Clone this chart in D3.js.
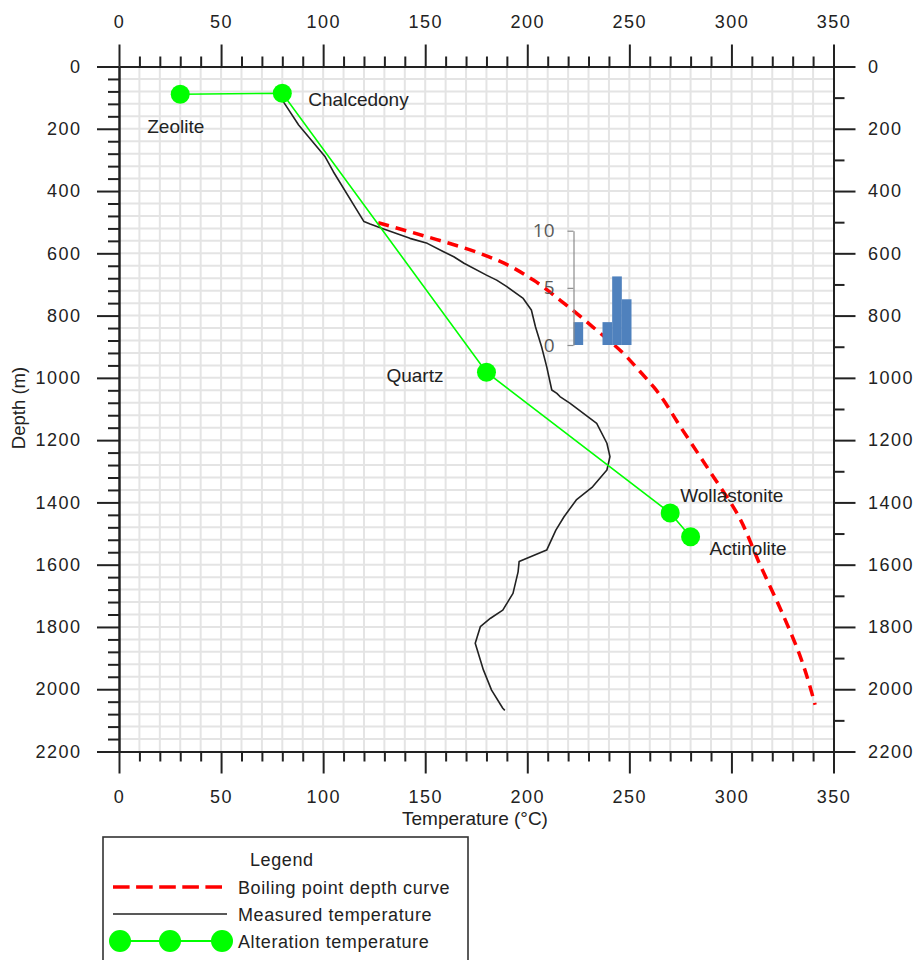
<!DOCTYPE html>
<html>
<head>
<meta charset="utf-8">
<script src="https://cdn.jsdelivr.net/npm/d3@7"></script>
<style>
  html, body { margin: 0; padding: 0; background: #fff; }
  svg { display: block; font-family: "Liberation Sans", Arial, sans-serif; }
</style>
</head>
<body>
<svg id="chart" width="915" height="960"></svg>
<script>
// ---- data ----
const tempTicks = [0, 50, 100, 150, 200, 250, 300, 350];
const depthTicks = [0, 200, 400, 600, 800, 1000, 1200, 1400, 1600, 1800, 2000, 2200];

// measured well temperature profile (°C vs m)
const measuredTemp = [80, 88, 101, 105, 120, 123, 129, 138, 142.5, 151, 159, 164, 169, 180, 185, 190, 198, 202, 204, 207,
  209.5, 212, 214.5, 216, 221, 234, 239, 240.5, 239, 232, 224, 218, 214, 209.5, 196, 195.5, 193, 188, 182, 177,
  174.5, 178.5, 182.5, 188, 189];
const measuredDepth = [108, 188, 290, 338, 498, 506, 520, 541, 552, 568, 595, 611, 632, 670, 686, 707, 745, 782, 836, 900,
  964, 1039, 1050, 1060, 1082, 1146, 1210, 1253, 1296, 1350, 1392, 1446, 1489, 1553, 1590, 1623, 1692, 1746, 1772, 1799,
  1852, 1938, 2003, 2061, 2068];

// boiling point with depth curve
const boilingTemp = [127, 151, 172, 187, 203, 216, 232, 247, 255, 262, 276, 290, 303, 314, 325, 334, 341];
const boilingDepth = [502, 547, 589, 627, 686, 750, 836, 921, 978, 1030, 1167, 1306, 1438, 1600, 1757, 1900, 2050];

// alteration minerals and their formation temperatures
const minerals = ["Zeolite", "Chalcedony", "Quartz", "Wollastonite", "Actinolite"];
const alterationTemp = [30, 80, 180, 270, 280];
const alterationDepth = [89, 86, 982, 1434, 1510];

// small histogram
const histBins = ["b1", "b2", "b3", "b4", "b5", "b6"];
const histCounts = [2, 0, 0, 2, 6, 4];
const histTicks = [0, 5, 10];

// ---- layout ----
const W = 915, H = 960;
const plot = { left: 119, right: 833.5, top: 66.5, bottom: 751.5 };
const labelPlacement = {
  Zeolite:      { dx: -33, dy: 39, anchor: "start" },
  Chalcedony:   { dx: 26,  dy: 12.5, anchor: "start" },
  Quartz:       { dx: -43, dy: 10, anchor: "end" },
  Wollastonite: { dx: 10,  dy: -10.5, anchor: "start" },
  Actinolite:   { dx: 19,  dy: 18.5, anchor: "start" }
};

const svg = d3.select("#chart");
svg.append("rect").attr("width", W).attr("height", H).attr("fill", "#fff");

const x = d3.scaleLinear().domain([0, 350]).range([plot.left, plot.right]);
const y = d3.scaleLinear().domain([0, 2200]).range([plot.top, plot.bottom]);

// ---- grid ----
const grid = svg.append("g").attr("stroke", "#e4e4e4").attr("stroke-width", 2);
grid.selectAll("line.v").data(d3.range(10, 350, 10)).join("line")
  .attr("x1", d => x(d)).attr("x2", d => x(d))
  .attr("y1", plot.top).attr("y2", plot.bottom);
grid.selectAll("line.h").data(d3.range(40, 2200, 40)).join("line")
  .attr("x1", plot.left).attr("x2", plot.right)
  .attr("y1", d => y(d)).attr("y2", d => y(d));

// ---- axes ----
const axisColor = "#222";
function styleAxis(g) {
  g.selectAll("path.domain").attr("stroke", axisColor).attr("stroke-width", 2);
  g.selectAll(".tick line").attr("stroke", axisColor).attr("stroke-width", 2);
  g.selectAll(".tick text").attr("fill", "#222")
    .style("font-size", "18px").style("letter-spacing", "1.5px")
    .style("font-family", "'Liberation Sans', Arial, sans-serif");
}
const fmt = d3.format("d");
const minorT = d3.range(0, 351, 10).filter(d => d % 50 !== 0);
const minorDL = d3.range(0, 2201, 40).filter(d => d % 200 !== 0);
const minorDR = d3.range(100, 2200, 200);

// top
svg.append("g").attr("transform", `translate(0,${plot.top})`)
  .call(d3.axisTop(x).tickValues(minorT).tickSize(10).tickSizeOuter(0).tickFormat(""))
  .call(styleAxis);
svg.append("g").attr("transform", `translate(0,${plot.top})`)
  .call(d3.axisTop(x).tickValues(tempTicks).tickSize(22).tickSizeOuter(0).tickPadding(16.5).tickFormat(fmt))
  .call(styleAxis);
// bottom
svg.append("g").attr("transform", `translate(0,${plot.bottom})`)
  .call(d3.axisBottom(x).tickValues(minorT).tickSize(10).tickSizeOuter(0).tickFormat(""))
  .call(styleAxis);
svg.append("g").attr("transform", `translate(0,${plot.bottom})`)
  .call(d3.axisBottom(x).tickValues(tempTicks).tickSize(22).tickSizeOuter(0).tickPadding(16.5).tickFormat(fmt))
  .call(styleAxis);
// left
svg.append("g").attr("transform", `translate(${plot.left},0)`)
  .call(d3.axisLeft(y).tickValues(minorDL).tickSize(11).tickSizeOuter(0).tickFormat(""))
  .call(styleAxis);
svg.append("g").attr("transform", `translate(${plot.left},0)`)
  .call(d3.axisLeft(y).tickValues(depthTicks).tickSize(22).tickSizeOuter(0).tickPadding(15.5).tickFormat(fmt))
  .call(styleAxis);
// right
svg.append("g").attr("transform", `translate(${plot.right},0)`)
  .call(d3.axisRight(y).tickValues(minorDR).tickSize(11).tickSizeOuter(0).tickFormat(""))
  .call(styleAxis);
svg.append("g").attr("transform", `translate(${plot.right},0)`)
  .call(d3.axisRight(y).tickValues(depthTicks).tickSize(22).tickSizeOuter(0).tickPadding(12.5).tickFormat(fmt))
  .call(styleAxis);

// axis titles
svg.append("text")
  .attr("x", 475).attr("y", 825).attr("text-anchor", "middle")
  .attr("fill", "#222").style("font-size", "19px")
  .text("Temperature (°C)");
svg.append("text")
  .attr("transform", "translate(25,408) rotate(-90)")
  .attr("text-anchor", "middle").attr("fill", "#222").style("font-size", "18.5px")
  .text("Depth (m)");

// ---- boiling point curve ----
const boilPts = boilingTemp.map((t, i) => [t, boilingDepth[i]]);
svg.append("path")
  .datum(boilPts)
  .attr("fill", "none").attr("stroke", "#ff0000").attr("stroke-width", 3.5)
  .attr("stroke-dasharray", "11,7")
  .attr("d", d3.line().x(d => x(d[0])).y(d => y(d[1])).curve(d3.curveMonotoneY));

// ---- measured temperature ----
const measPts = measuredTemp.map((t, i) => [t, measuredDepth[i]]);
svg.append("path")
  .datum(measPts)
  .attr("fill", "none").attr("stroke", "#222").attr("stroke-width", 1.6)
  .attr("stroke-linejoin", "round")
  .attr("d", d3.line().x(d => x(d[0])).y(d => y(d[1])));

// ---- alteration temperature ----
const altPts = minerals.map((m, i) => ({ name: m, t: alterationTemp[i], d: alterationDepth[i] }));
svg.append("path")
  .datum(altPts)
  .attr("fill", "none").attr("stroke", "#00ff00").attr("stroke-width", 1.6)
  .attr("d", d3.line().x(d => x(d.t)).y(d => y(d.d)));
svg.append("g").selectAll("circle").data(altPts).join("circle")
  .attr("cx", d => x(d.t)).attr("cy", d => y(d.d)).attr("r", 9.5)
  .attr("fill", "#00ff00");
svg.append("g").selectAll("text").data(altPts).join("text")
  .attr("x", d => x(d.t) + labelPlacement[d.name].dx)
  .attr("y", d => y(d.d) + labelPlacement[d.name].dy)
  .attr("text-anchor", d => labelPlacement[d.name].anchor)
  .attr("fill", "#222").style("font-size", "19px")
  .text(d => d.name);

// ---- inset histogram ----
const inset = { left: 573.5, right: 631.5, top: 230.7, bottom: 345 };
const hx = d3.scaleBand().domain(histBins).range([inset.left, inset.right]).padding(0);
const hy = d3.scaleLinear().domain([0, 10]).range([inset.bottom, inset.top]);
svg.append("g").selectAll("rect").data(histCounts).join("rect")
  .attr("x", (d, i) => hx(histBins[i]))
  .attr("width", hx.bandwidth())
  .attr("y", d => hy(d))
  .attr("height", d => hy(0) - hy(d))
  .attr("fill", "#4f81bd");
const hAxis = svg.append("g").attr("transform", `translate(${inset.left},0)`)
  .call(d3.axisLeft(hy).tickValues(histTicks).tickSize(6).tickSizeOuter(0).tickPadding(13).tickFormat(fmt));
hAxis.selectAll("path.domain").attr("stroke", "#8c8c8c").attr("stroke-width", 1.2);
hAxis.selectAll(".tick line").attr("stroke", "#8c8c8c").attr("stroke-width", 1.2);
hAxis.selectAll(".tick text").attr("fill", "#595959")
  .style("font-size", "19px").style("font-family", "'Open Sans', 'Liberation Sans', sans-serif");

// ---- legend ----
const lg = svg.append("g");
lg.append("rect").attr("x", 103).attr("y", 837).attr("width", 365).attr("height", 140)
  .attr("fill", "#fff").attr("stroke", "#333").attr("stroke-width", 1.6);
lg.append("text").attr("x", 250).attr("y", 866).attr("fill", "#222")
  .style("font-size", "18px").style("letter-spacing", "0.6px").text("Legend");
const legendItems = ["Boiling point depth curve", "Measured temperature", "Alteration temperature"];
const legendY = [887, 914, 941];
lg.selectAll("text.item").data(legendItems).join("text")
  .attr("class", "item")
  .attr("x", 238).attr("y", (d, i) => legendY[i] + 6.5)
  .attr("fill", "#222").style("font-size", "18px").style("letter-spacing", "0.6px")
  .text(d => d);
lg.append("line").attr("x1", 113).attr("x2", 222).attr("y1", legendY[0]).attr("y2", legendY[0])
  .attr("stroke", "#ff0000").attr("stroke-width", 3.5).attr("stroke-dasharray", "16.6,6.5");
lg.append("line").attr("x1", 113).attr("x2", 227).attr("y1", legendY[1]).attr("y2", legendY[1])
  .attr("stroke", "#222").attr("stroke-width", 1.6);
lg.append("line").attr("x1", 120).attr("x2", 222).attr("y1", legendY[2]).attr("y2", legendY[2])
  .attr("stroke", "#00ff00").attr("stroke-width", 2);
lg.selectAll("circle").data([120, 170, 222]).join("circle")
  .attr("cx", d => d).attr("cy", legendY[2]).attr("r", 11)
  .attr("fill", "#00ff00");
</script>
</body>
</html>
